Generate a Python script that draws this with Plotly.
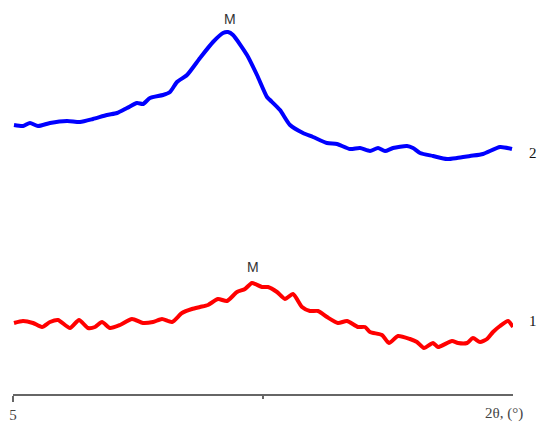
import plotly.graph_objects as go

# 2-theta (degrees) and intensities (arbitrary units)
two_theta_2 = [5.08, 5.80, 6.36, 7.00, 7.96, 9.32, 10.36, 11.40, 12.52, 13.32,
               14.12, 14.92, 15.40, 15.96, 17.00, 17.56, 18.12, 18.92, 19.96, 21.00,
               21.80, 22.20, 22.60, 23.72, 24.52, 25.32, 25.56, 26.36, 27.16, 28.20,
               29.00, 30.12, 30.92, 31.96, 32.76, 33.56, 34.20, 34.76, 35.40, 36.52,
               37.00, 37.56, 38.60, 39.72, 40.52, 41.56, 42.60, 43.96, 44.92]
intensity_2 = [268, 267, 270, 267, 270, 272, 271, 274, 278, 280,
               285, 290, 289, 295, 298, 301, 311, 318, 335, 351,
               360, 361, 358, 338, 318, 296, 293, 283, 268, 260,
               256, 250, 249, 244, 245, 242, 245, 242, 245, 247,
               245, 240, 237, 234, 235, 237, 239, 246, 244]

two_theta_1 = [5.08, 5.80, 6.60, 7.32, 7.96, 8.60, 9.56, 10.28, 11.00, 11.56,
               12.12, 12.76, 13.56, 14.52, 15.40, 16.20, 16.92, 17.72, 18.52, 19.32,
               19.96, 20.60, 21.40, 22.12, 22.92, 23.56, 24.12, 24.92, 25.40, 26.12,
               26.76, 27.40, 28.12, 28.76, 29.40, 30.12, 31.00, 31.72, 32.60, 33.16,
               33.56, 34.52, 35.08, 35.80, 36.76, 37.32, 37.88, 38.60, 39.00, 40.12,
               40.60, 41.32, 41.80, 42.36, 42.92, 43.40, 43.96, 44.60, 45.00]
intensity_1 = [70, 72, 70, 66, 71, 73, 65, 73, 65, 66,
               71, 65, 68, 74, 70, 71, 74, 71, 80, 84,
               86, 88, 94, 92, 101, 104, 110, 106, 106, 101,
               94, 99, 86, 82, 82, 76, 70, 72, 66, 66,
               61, 58, 50, 57, 54, 51, 45, 50, 46, 52,
               50, 50, 55, 51, 54, 61, 67, 72, 66]

x_range = [5, 45]
major_ticks = [5]
major_labels = ["5"]
minor_ticks = [25]

peak_labels = [("M", 22.36, 374), ("M", 24.2, 126)]
curve_labels = [("2", 240), ("1", 72)]

fig = go.Figure()
fig.add_trace(go.Scatter(x=two_theta_2, y=intensity_2, mode="lines",
                         line=dict(color="#0000FF", width=4, shape="spline", smoothing=0.6),
                         showlegend=False, hoverinfo="skip"))
fig.add_trace(go.Scatter(x=two_theta_1, y=intensity_1, mode="lines",
                         line=dict(color="#FF0000", width=4, shape="spline", smoothing=0.6),
                         showlegend=False, hoverinfo="skip"))

for txt, xv, yv in peak_labels:
    fig.add_annotation(x=xv, y=yv, text=txt, showarrow=False, xanchor="center",
                       yanchor="middle",
                       font=dict(family="Liberation Sans, Arial", size=14, color="#333333"))
for txt, yv in curve_labels:
    fig.add_annotation(x=1.04, xref="paper", y=yv, yref="y", text=txt, showarrow=False,
                       xanchor="center", yanchor="middle",
                       font=dict(family="Liberation Serif, Times New Roman", size=15, color="#111111"))

fig.add_annotation(x=1.024, y=-0.0485, xref="paper", yref="paper", text="2θ, (°)",
                   showarrow=False, xanchor="right", yanchor="middle",
                   font=dict(family="Liberation Serif, Times New Roman", size=15, color="#444444"))

fig.update_layout(
    width=538, height=423,
    margin=dict(l=13, r=25, t=0, b=29),
    paper_bgcolor="white", plot_bgcolor="white",
    xaxis=dict(range=x_range, showline=True, linecolor="#666666", linewidth=2,
               showgrid=False, zeroline=False,
               tickmode="array", tickvals=major_ticks, ticktext=major_labels,
               ticks="outside", ticklen=6, tickwidth=1.5, tickcolor="#666666",
               tickfont=dict(family="Liberation Serif, Times New Roman", size=15, color="#444444"),
               minor=dict(tickvals=minor_ticks, ticks="outside", ticklen=3,
                          tickwidth=1.5, tickcolor="#666666", showgrid=False)),
    yaxis=dict(range=[-1, 393], visible=False, showgrid=False, zeroline=False),
)

fig.write_html("out.html")
